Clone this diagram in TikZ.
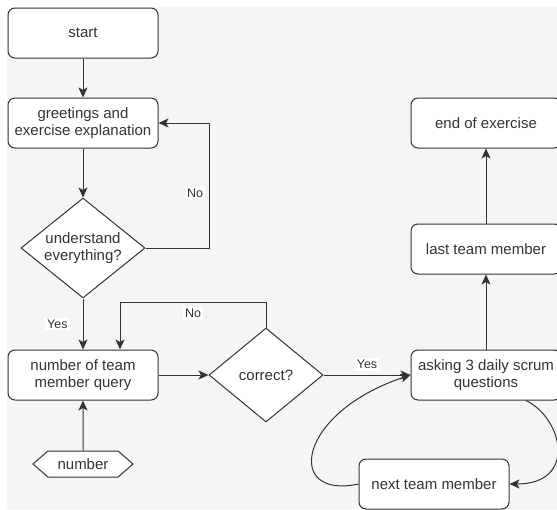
\documentclass[tikz,border=0pt]{standalone}
\usepackage{fontspec}
\setmainfont{Liberation Sans}
\usepackage{xcolor}
\usetikzlibrary{arrows.meta,positioning,shapes.geometric,shapes.symbols}
\definecolor{FlowLine}{HTML}{333333}
\definecolor{FlowText}{HTML}{333333}
\definecolor{FlowBack}{HTML}{F5F5F5}

\begin{document}
\begin{tikzpicture}[
    x=1pt, y=-1pt,
    node distance=50pt,
    flownode/.style={draw=FlowLine, fill=white, line width=1pt, align=center,
                 text=FlowText, font=\fontsize{15}{17.5}\selectfont},
    stepbox/.style={flownode, rounded corners=7pt, minimum height=50pt,
                 minimum width=150pt, inner sep=2pt},
    decision/.style={flownode, diamond, aspect=1.24, inner sep=0pt},
    inputbox/.style={flownode, signal, signal to=east and west,
                 signal pointer angle=82, minimum width=100pt,
                 minimum height=26pt, inner sep=0pt},
    flowlabel/.style={font=\fontsize{12.5}{15}\selectfont, text=FlowText,
                 fill=white, inner sep=2pt},
    arrow/.style={-{Stealth[length=10pt,width=9pt,inset=2.5pt]}, line width=1pt,
                 draw=FlowLine}
]
\useasboundingbox (0,0) rectangle (557,509);
\fill[FlowBack] (7,7) rectangle (557,509);

\node[stepbox] (start) at (83,33) {start};
\node[stepbox, below=39pt of start] (greet) {greetings and\\exercise explanation};
\node[decision, minimum width=124pt, minimum height=100pt, below=49pt of greet] (understand) {understand\\everything?};
\node[stepbox, below=51pt of understand] (query) {number of team\\member query};
\node[inputbox, below=50pt of query] (number) {number};
\node[decision, minimum width=114pt, minimum height=94pt, right=50pt of query] (correct) {correct?};
\node[stepbox, right=87pt of correct] (asking) {asking 3 daily scrum\\questions};
\node[stepbox, above=75pt of asking] (last) {last team member};
\node[stepbox, above=75pt of last] (finish) {end of exercise};
\node[stepbox] (next) at (434,484) {next team member};

\coordinate (noback) at ([xshift=51pt]greet.east);
\coordinate (noagain) at ([xshift=37pt]query.north);

\draw[arrow] (start) -- (greet);
\draw[arrow] (greet) -- (understand);
\draw[arrow] (understand.east) -| node[flowlabel, pos=0.72, left=4pt] {No} (noback) -- (greet.east);
\draw[arrow] (understand) -- node[flowlabel, left=13pt] {Yes} (query);
\draw[arrow] (number) -- (query);
\draw[arrow] (query) -- (correct);
\draw[arrow] (correct.north) -- ++(0,-25) -| node[flowlabel, pos=0.25, below=4pt] {No} (noagain);
\draw[arrow] (correct) -- node[flowlabel, above=4pt] {Yes} (asking);
\draw[arrow] (asking) -- (last);
\draw[arrow] (last) -- (finish);
\draw[arrow] ([xshift=40pt]asking.south) .. controls +(37,18) and +(68,0) .. (next.east);
\draw[arrow] (next.west) .. controls +(-74,16) and +(-114,38) .. (asking.west);
\end{tikzpicture}
\end{document}
